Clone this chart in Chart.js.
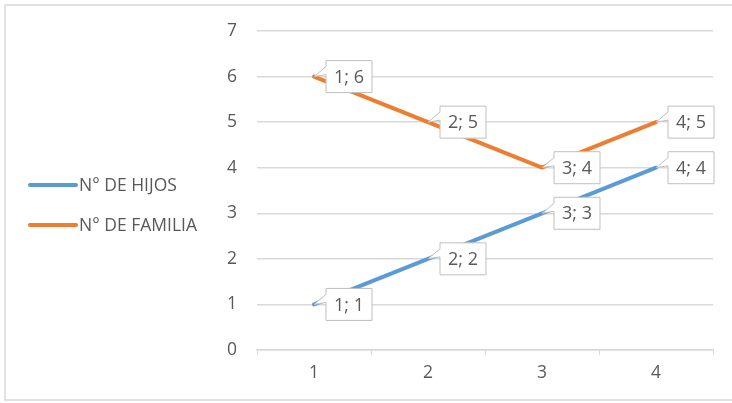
<!DOCTYPE html>
<html>
<head>
<meta charset="utf-8">
<script src="https://cdn.jsdelivr.net/npm/chart.js@4.4.0/dist/chart.umd.min.js"></script>
<style>
  html, body { margin: 0; padding: 0; background: #fff; }
  #wrap { width: 732px; height: 403px; position: relative; }
</style>
</head>
<body>
<div id="wrap"><canvas id="grafico"></canvas></div>
<script>
// datos del grafico
const categorias = ["1", "2", "3", "4"];
const hijos = [1, 2, 3, 4];
const familia = [6, 5, 4, 5];
const nombres = ["N° DE HIJOS", "N° DE FAMILIA"];
const colores = ["#5b9bd5", "#ed7d31"];

const fuente = "'Open Sans', 'Liberation Sans', sans-serif";
const gris = "#d9d9d9";

// borde exterior + leyenda a la izquierda
const marcoLeyenda = {
    id: "marcoLeyenda",
    beforeDraw(chart) {
        const ctx = chart.ctx;
        ctx.save();
        ctx.strokeStyle = gris;
        ctx.lineWidth = 1.5;
        ctx.strokeRect(5, 5, 800, 395);
        ctx.restore();
    },
    afterDraw(chart) {
        const ctx = chart.ctx;
        ctx.save();
        ctx.font = "17.5px " + fuente;
        ctx.textBaseline = "middle";
        ctx.lineCap = "round";
        nombres.forEach((n, i) => {
            const y = 185 + i * 40;
            ctx.strokeStyle = colores[i];
            ctx.lineWidth = 4;
            ctx.beginPath();
            ctx.moveTo(30, y);
            ctx.lineTo(76, y);
            ctx.stroke();
            ctx.fillStyle = "#595959";
            ctx.fillText(n, 79, y + 1);
        });
        ctx.restore();
    },
};

// etiquetas tipo globo
const etiquetas = {
    id: "etiquetas",
    afterDatasetsDraw(chart) {
        const ctx = chart.ctx;
        ctx.save();
        ctx.font = "18px " + fuente;
        ctx.textAlign = "center";
        ctx.textBaseline = "middle";
        chart.data.datasets.forEach((ds, di) => {
            chart.getDatasetMeta(di).data.forEach((pt, i) => {
                const bx = pt.x + 12, by = pt.y - 16, bw = 46, bh = 32;
                ctx.beginPath();
                ctx.moveTo(bx, by);
                ctx.lineTo(bx + bw, by);
                ctx.lineTo(bx + bw, by + bh);
                ctx.lineTo(bx, by + bh);
                ctx.lineTo(bx, by + 14);
                ctx.lineTo(pt.x, pt.y);
                ctx.lineTo(bx, by + 6);
                ctx.closePath();
                ctx.fillStyle = "#fff";
                ctx.fill();
                ctx.strokeStyle = "#bfbfbf";
                ctx.lineWidth = 1;
                ctx.stroke();
                ctx.fillStyle = "#595959";
                ctx.fillText(categorias[i] + "; " + ds.data[i], bx + bw / 2, by + bh / 2 + 1);
            });
        });
        ctx.restore();
    },
};

const config = {
    type: "line",
    data: {
        labels: categorias,
        datasets: [
            {
                label: nombres[0],
                data: hijos,
                borderColor: colores[0],
                backgroundColor: colores[0],
                borderWidth: 4,
                borderCapStyle: "round",
                pointRadius: 0,
            },
            {
                label: nombres[1],
                data: familia,
                borderColor: colores[1],
                backgroundColor: colores[1],
                borderWidth: 4,
                borderCapStyle: "round",
                pointRadius: 0,
            },
        ],
    },
    options: {
        responsive: true,
        maintainAspectRatio: false,
        animation: false,
        layout: { padding: { top: 31, right: 19, left: 0, bottom: 0 } },
        plugins: {
            legend: { display: false },
            tooltip: { enabled: false },
        },
        scales: {
            x: {
                offset: true,
                grid: {
                    display: true,
                    drawOnChartArea: false,
                    drawTicks: true,
                    tickLength: 5,
                    color: gris,
                    offset: true,
                },
                border: { color: gris, width: 1.5 },
                ticks: { color: "#595959", font: { family: fuente, size: 17.5 }, padding: 8 },
                afterFit(s) { s.height = 53; },
            },
            y: {
                min: 0,
                max: 7,
                ticks: { stepSize: 1, color: "#595959", font: { family: fuente, size: 17.5 }, padding: 20 },
                grid: { color: gris, lineWidth: 1.5, drawTicks: false },
                border: { display: false },
                afterFit(s) { s.width = 257; },
            },
        },
    },
    plugins: [marcoLeyenda, etiquetas],
};

var grafico = new Chart(document.getElementById("grafico"), config);
</script>
</body>
</html>
